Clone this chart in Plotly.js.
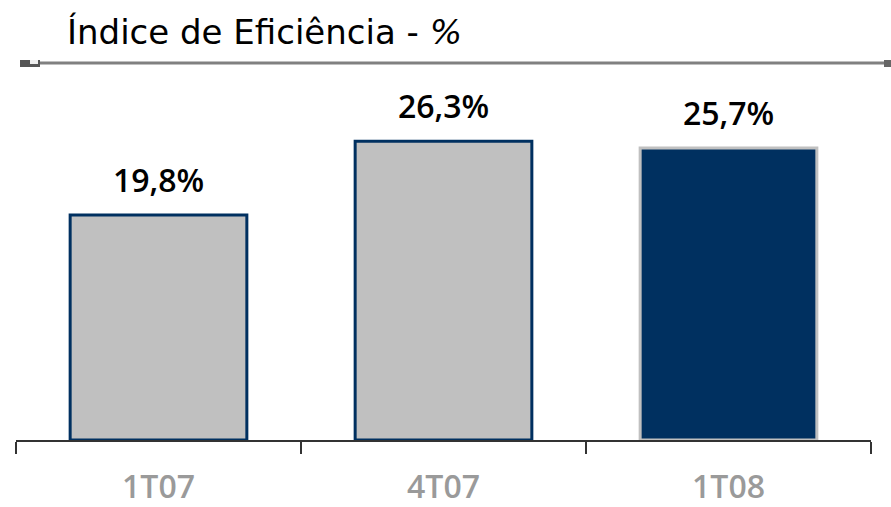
<!DOCTYPE html>
<html><head><meta charset="utf-8">
<script src="https://cdn.plot.ly/plotly-3.0.1.min.js"></script>
<style>body{margin:0;padding:0;background:#fff}#chart{width:891px;height:507px}</style>
</head><body><div id="chart"></div>
<script>
const categories = ["1T07", "4T07", "1T08"];
const values = [19.8, 26.3, 25.7];
const valueLabels = ["19,8%", "26,3%", "25,7%"];
const fillColors = ["#c0c0c0", "#c0c0c0", "#003060"];
const lineColors = ["#003060", "#003060", "#c0c0c0"];

const trace = {
  type: "bar",
  x: categories,
  y: values,
  width: 0.62,
  marker: {color: fillColors, line: {color: lineColors, width: 3}},
  hoverinfo: "none"
};

const annotations = categories.map((c, i) => ({
  x: c, y: values[i], xref: "x", yref: "y",
  text: valueLabels[i], showarrow: false,
  yanchor: "bottom", yshift: 12,
  font: {family: "Open Sans, DejaVu Sans, sans-serif", size: 32, color: "#000", weight: 600}
}));

const layout = {
  width: 891, height: 507,
  margin: {l: 16, r: 20, t: 100, b: 67},
  paper_bgcolor: "#fff", plot_bgcolor: "#fff",
  showlegend: false,
  title: {
    text: "Índice de Eficiência - <i>%</i>",
    x: 67 / 891, xanchor: "left", xref: "container",
    y: 1 - 32 / 507, yanchor: "middle", yref: "container",
    font: {family: "DejaVu Sans, sans-serif", size: 34, color: "#000"}
  },
  xaxis: {
    type: "category",
    showline: true, linecolor: "#333", linewidth: 2,
    ticks: "outside", tickson: "boundaries", ticklen: 12, tickwidth: 2, tickcolor: "#333",
    tickfont: {family: "Open Sans, DejaVu Sans, sans-serif", size: 32, color: "#9a9a9a", weight: 600},
    ticklabelstandoff: 18,
    showgrid: false, zeroline: false, fixedrange: true
  },
  yaxis: {
    range: [0, 29.93], visible: false, showgrid: false, zeroline: false, fixedrange: true
  },
  annotations: annotations,
  shapes: [
    {type: "line", xref: "paper", yref: "paper",
     x0: (30 - 16) / 855, x1: 1 + 20 / 855, y0: 1 + 37 / 340, y1: 1 + 37 / 340,
     line: {color: "#808080", width: 3}},
    {type: "rect", xref: "paper", yref: "paper",
     x0: (20 - 16) / 855, x1: (40 - 16) / 855, y0: 1 + 33 / 340, y1: 1 + 40 / 340,
     fillcolor: "#555", line: {width: 0}},
    {type: "rect", xref: "paper", yref: "paper",
     x0: (30 - 16) / 855, x1: (38 - 16) / 855, y0: 1 + 36 / 340, y1: 1 + 40 / 340,
     fillcolor: "#eee", line: {width: 0}},
    {type: "rect", xref: "paper", yref: "paper",
     x0: (884 - 16) / 855, x1: (891 - 16) / 855, y0: 1 + 33 / 340, y1: 1 + 40 / 340,
     fillcolor: "#666", line: {width: 0}}
  ]
};

Plotly.newPlot("chart", [trace], layout, {displayModeBar: false, staticPlot: true});
</script></body></html>
